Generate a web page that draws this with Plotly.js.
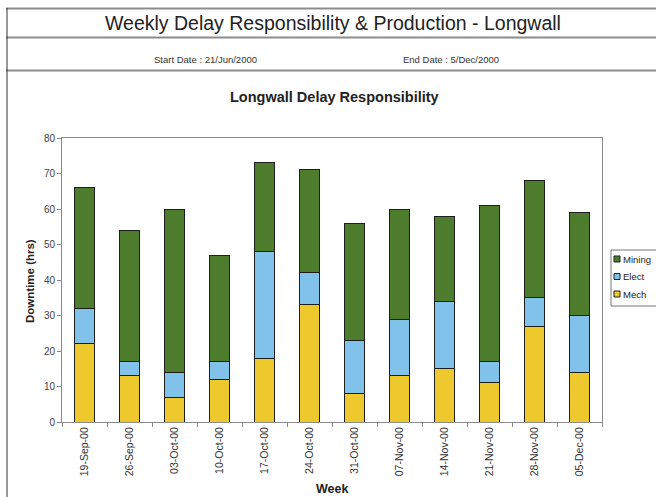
<!DOCTYPE html>
<html>
<head>
<meta charset="utf-8">
<script src="https://cdn.plot.ly/plotly-3.0.1.min.js"></script>
<style>html,body{margin:0;padding:0;background:#fff;}#chart{width:656px;height:497px;}</style>
</head>
<body>
<div id="chart"></div>
<script>
const weeks = ["19-Sep-00","26-Sep-00","03-Oct-00","10-Oct-00","17-Oct-00","24-Oct-00","31-Oct-00","07-Nov-00","14-Nov-00","21-Nov-00","28-Nov-00","05-Dec-00"];
const mech   = [22, 13, 7, 12, 18, 33, 8, 13, 15, 11, 27, 14];
const elect  = [10, 4, 7, 5, 30, 9, 15, 16, 19, 6, 8, 16];
const mining = [34, 37, 46, 30, 25, 29, 33, 31, 24, 44, 33, 29];
const seriesNames = ["Mining", "Elect", "Mech"];
const seriesColors = ['#4d7c2c', '#80c2ea', '#eec92e'];

// plot area in pixels
const L = 62, R = 602, T = 138, B = 422, W = 656, H = 497;
const px = x => (x - L) / (R - L);
const py = y => (B - y) / (B - T);

const edge = {color: '#1e1e1e', width: 1};
const traces = [
  {type: 'bar', name: 'Mech', x: weeks, y: mech, marker: {color: seriesColors[2], line: edge}},
  {type: 'bar', name: 'Elect', x: weeks, y: elect, marker: {color: seriesColors[1], line: edge}},
  {type: 'bar', name: 'Mining', x: weeks, y: mining, marker: {color: seriesColors[0], line: edge}}
];

const font = 'Liberation Sans, Arial, sans-serif';

const shapes = [
  {type: 'line', xref: 'paper', yref: 'paper', x0: px(6), x1: px(660), y0: py(8.5), y1: py(8.5), line: {color: '#8c8c8c', width: 2}},
  {type: 'line', xref: 'paper', yref: 'paper', x0: px(6), x1: px(660), y0: py(37.5), y1: py(37.5), line: {color: '#8c8c8c', width: 2}},
  {type: 'line', xref: 'paper', yref: 'paper', x0: px(6), x1: px(660), y0: py(70.5), y1: py(70.5), line: {color: '#8c8c8c', width: 2}},
  {type: 'line', xref: 'paper', yref: 'paper', x0: px(7), x1: px(7), y0: py(8), y1: py(500), line: {color: '#333', width: 1}},
  // legend box
  {type: 'rect', xref: 'paper', yref: 'paper', x0: px(611), x1: px(670), y0: py(250), y1: py(306), line: {color: '#777', width: 1}, fillcolor: '#fff'}
];
const annotations = [
  {text: 'Weekly Delay Responsibility & Production - Longwall', xref: 'paper', yref: 'paper',
    x: px(333), y: py(23), xanchor: 'center', yanchor: 'middle', showarrow: false,
    font: {family: font, size: 19.5, color: '#222'}},
  {text: 'Start Date : 21/Jun/2000', xref: 'paper', yref: 'paper',
    x: px(205), y: py(60), xanchor: 'center', yanchor: 'middle', showarrow: false,
    font: {family: font, size: 9.5, color: '#333'}},
  {text: 'End Date : 5/Dec/2000', xref: 'paper', yref: 'paper',
    x: px(451), y: py(60), xanchor: 'center', yanchor: 'middle', showarrow: false,
    font: {family: font, size: 9.5, color: '#333'}},
  {text: '<b>Longwall Delay Responsibility</b>', xref: 'paper', yref: 'paper',
    x: px(334), y: py(97), xanchor: 'center', yanchor: 'middle', showarrow: false,
    font: {family: font, size: 14.5, color: '#222'}},
  {text: '<b>Downtime (hrs)</b>', xref: 'paper', yref: 'paper', textangle: -90,
    x: px(30), y: py(281), xanchor: 'center', yanchor: 'middle', showarrow: false,
    font: {family: font, size: 11.5, color: '#222'}},
  {text: '<b>Week</b>', xref: 'paper', yref: 'paper',
    x: px(332), y: py(489), xanchor: 'center', yanchor: 'middle', showarrow: false,
    font: {family: font, size: 12.5, color: '#222'}}
];
// custom legend entries
seriesNames.forEach((n, i) => {
  const yc = 259 + i * 17.5;
  shapes.push({type: 'rect', xref: 'paper', yref: 'paper', x0: px(614), x1: px(620), y0: py(yc - 3), y1: py(yc + 3),
    fillcolor: seriesColors[i], line: {color: '#222', width: 1}});
  annotations.push({text: n, xref: 'paper', yref: 'paper', x: px(621), y: py(yc), xanchor: 'left', yanchor: 'middle',
    showarrow: false, font: {family: font, size: 9.5, color: '#222'}});
});

const layout = {
  width: W, height: H,
  margin: {l: L, r: W - R, t: T, b: H - B, autoexpand: false},
  paper_bgcolor: '#fff', plot_bgcolor: '#fff',
  barmode: 'stack', bargap: 0.57,
  showlegend: false,
  xaxis: {type: 'category', showline: true, linecolor: '#8a8a8a', linewidth: 1, mirror: true,
    ticks: 'outside', tickson: 'boundaries', ticklen: 4, tickcolor: '#8a8a8a',
    tickangle: -90, tickfont: {family: font, size: 10.5, color: '#333'}, showgrid: false, zeroline: false,
    title: {text: ''}},
  yaxis: {range: [0, 80], dtick: 10, showline: true, linecolor: '#8a8a8a', linewidth: 1, mirror: true,
    ticks: 'outside', ticklen: 4, tickcolor: '#8a8a8a', showgrid: false, zeroline: false,
    tickfont: {family: font, size: 10, color: '#444'}, title: {text: ''}},
  shapes: shapes,
  annotations: annotations
};

Plotly.newPlot('chart', traces, layout, {displayModeBar: false, staticPlot: true});
</script>
</body>
</html>
